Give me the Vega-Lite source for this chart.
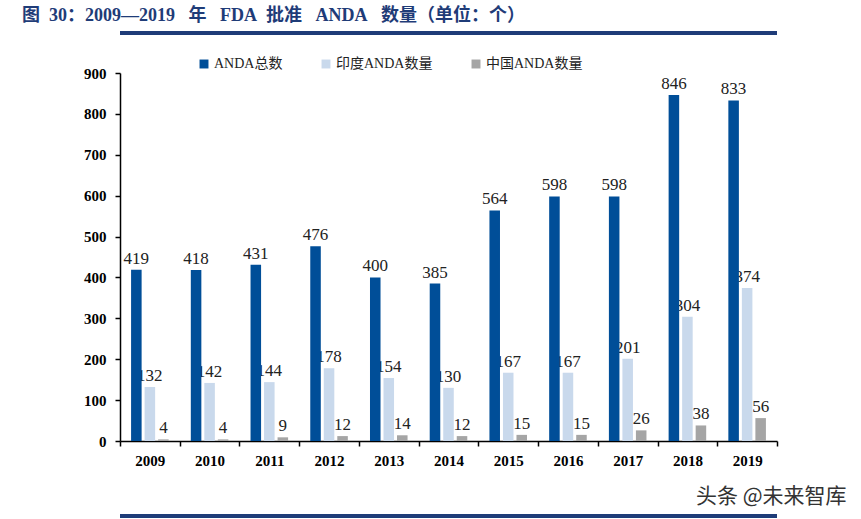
{
  "$schema": "https://vega.github.io/schema/vega-lite/v6.json",
  "width": 657,
  "height": 368,
  "autosize": {"type": "none"},
  "padding": {"left": 120, "top": 73, "right": 84, "bottom": 78},
  "background": "white",
  "title": {
    "text": "图\u200230：2009—2019\u2002 年\u2002 FDA\u2002批准\u2002 ANDA\u2002 数量（单位：个）",
    "anchor": "start",
    "frame": "group",
    "dx": -98,
    "offset": 6,
    "font": "Liberation Serif, Noto Sans CJK SC",
    "fontSize": 18,
    "fontWeight": "bold",
    "color": "#1F3C78"
  },
  "data": {
    "values": [
      {"year": "2009", "series": "ANDA总数", "value": 419},
      {"year": "2010", "series": "ANDA总数", "value": 418},
      {"year": "2011", "series": "ANDA总数", "value": 431},
      {"year": "2012", "series": "ANDA总数", "value": 476},
      {"year": "2013", "series": "ANDA总数", "value": 400},
      {"year": "2014", "series": "ANDA总数", "value": 385},
      {"year": "2015", "series": "ANDA总数", "value": 564},
      {"year": "2016", "series": "ANDA总数", "value": 598},
      {"year": "2017", "series": "ANDA总数", "value": 598},
      {"year": "2018", "series": "ANDA总数", "value": 846},
      {"year": "2019", "series": "ANDA总数", "value": 833},
      {"year": "2009", "series": "印度ANDA数量", "value": 132},
      {"year": "2010", "series": "印度ANDA数量", "value": 142},
      {"year": "2011", "series": "印度ANDA数量", "value": 144},
      {"year": "2012", "series": "印度ANDA数量", "value": 178},
      {"year": "2013", "series": "印度ANDA数量", "value": 154},
      {"year": "2014", "series": "印度ANDA数量", "value": 130},
      {"year": "2015", "series": "印度ANDA数量", "value": 167},
      {"year": "2016", "series": "印度ANDA数量", "value": 167},
      {"year": "2017", "series": "印度ANDA数量", "value": 201},
      {"year": "2018", "series": "印度ANDA数量", "value": 304},
      {"year": "2019", "series": "印度ANDA数量", "value": 374},
      {"year": "2009", "series": "中国ANDA数量", "value": 4},
      {"year": "2010", "series": "中国ANDA数量", "value": 4},
      {"year": "2011", "series": "中国ANDA数量", "value": 9},
      {"year": "2012", "series": "中国ANDA数量", "value": 12},
      {"year": "2013", "series": "中国ANDA数量", "value": 14},
      {"year": "2014", "series": "中国ANDA数量", "value": 12},
      {"year": "2015", "series": "中国ANDA数量", "value": 15},
      {"year": "2016", "series": "中国ANDA数量", "value": 15},
      {"year": "2017", "series": "中国ANDA数量", "value": 26},
      {"year": "2018", "series": "中国ANDA数量", "value": 38},
      {"year": "2019", "series": "中国ANDA数量", "value": 56}
    ]
  },
  "encoding": {
    "x": {
      "field": "year",
      "type": "nominal",
      "scale": {"paddingInner": 0, "paddingOuter": 0},
      "axis": {
        "labelAngle": 0,
        "tickBand": "extent",
        "labelFont": "Liberation Serif",
        "labelFontSize": 15,
        "labelFontWeight": "bold",
        "labelColor": "#000",
        "labelPadding": 7,
        "tickSize": 5,
        "tickColor": "#000",
        "domainColor": "#000",
        "domainWidth": 1.5,
        "tickWidth": 1.5,
        "title": "头条 @未来智库",
        "titleX": 726,
        "titleY": 55,
        "titleAlign": "right",
        "titleBaseline": "middle",
        "titleFont": "Noto Sans CJK SC",
        "titleFontSize": 21,
        "titleFontWeight": "normal",
        "titleColor": "#333"
      }
    },
    "xOffset": {
      "field": "series",
      "type": "nominal",
      "sort": ["ANDA总数", "印度ANDA数量", "中国ANDA数量"],
      "scale": {"paddingInner": 0.22, "paddingOuter": 0.82}
    },
    "y": {
      "field": "value",
      "type": "quantitative",
      "scale": {"domain": [0, 900], "nice": false},
      "axis": {
        "values": [0, 100, 200, 300, 400, 500, 600, 700, 800, 900],
        "grid": false,
        "title": null,
        "labelFont": "Liberation Serif",
        "labelFontSize": 15,
        "labelFontWeight": "bold",
        "labelColor": "#000",
        "labelPadding": 9,
        "tickSize": 5,
        "tickColor": "#000",
        "domainColor": "#000",
        "domainWidth": 1.5,
        "tickWidth": 1.5
      }
    }
  },
  "layer": [
    {
      "mark": {"type": "text", "baseline": "alphabetic", "dy": -6, "font": "Liberation Serif", "fontSize": 17, "color": "#222"},
      "encoding": {"text": {"field": "value", "type": "quantitative"}}
    },
    {
      "mark": {"type": "bar"},
      "encoding": {
        "color": {
          "field": "series",
          "type": "nominal",
          "sort": ["ANDA总数", "印度ANDA数量", "中国ANDA数量"],
          "scale": {"domain": ["ANDA总数", "印度ANDA数量", "中国ANDA数量"], "range": ["#004E98", "#C9D9EC", "#A5A5A5"]},
          "legend": {
            "title": null,
            "orient": "none",
            "legendX": 77,
            "legendY": -16,
            "direction": "horizontal",
            "symbolType": "square",
            "symbolSize": 80,
            "symbolStrokeWidth": 0,
            "labelFont": "Liberation Serif, Noto Sans CJK SC",
            "labelFontSize": 14,
            "labelColor": "#222",
            "labelOffset": 3,
            "columnPadding": 36
          }
        }
      }
    },
    {
      "mark": {"type": "rule", "color": "#1F3C78", "strokeWidth": 3},
      "encoding": {"y": {"datum": 998}, "x": null, "xOffset": null}
    },
    {
      "mark": {"type": "rule", "color": "#1F3C78", "strokeWidth": 3},
      "encoding": {"y": {"datum": -183}, "x": null, "xOffset": null}
    }
  ],
  "config": {"view": {"stroke": null}}
}
